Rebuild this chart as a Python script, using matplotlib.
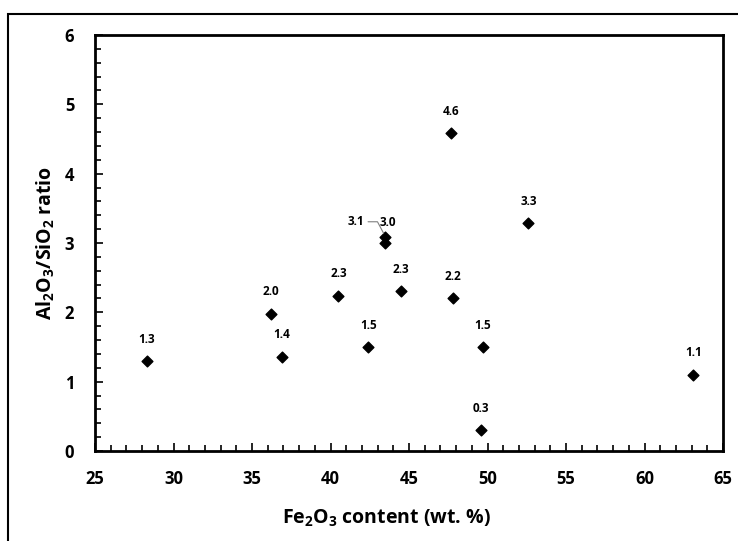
import matplotlib.pyplot as plt
from matplotlib.patches import Rectangle
from matplotlib.ticker import MultipleLocator

# Fe2O3 content vs Al2O3/SiO2 ratio
fe2o3 = [28.3, 36.2, 36.9, 40.5, 42.4, 43.5, 43.5, 44.5, 47.7, 47.8, 49.7, 49.6, 52.6, 63.1]
ratio = [1.30, 1.98, 1.36, 2.24, 1.50, 3.09, 3.00, 2.31, 4.58, 2.20, 1.50, 0.30, 3.29, 1.10]
labels = ['1.3', '2.0', '1.4', '2.3', '1.5', '3.1', '3.0', '2.3', '4.6', '2.2', '1.5', '0.3', '3.3', '1.1']

plt.rcParams['font.family'] = ['Open Sans', 'DejaVu Sans']
plt.rcParams['mathtext.default'] = 'regular'

fig = plt.figure(figsize=(7.38, 5.41), dpi=100)
ax = fig.add_axes([95 / 738, 1 - 451 / 541, 628 / 738, 416 / 541])

# outer frame of the chart area (runs off the right and bottom edges)
fig.patches.append(Rectangle((8 / 738, -0.1), 1.2, 1.1 - 14 / 541,
                             transform=fig.transFigure, fill=False,
                             edgecolor='black', linewidth=1.5))

ax.scatter(fe2o3, ratio, marker='D', s=30, color='black', zorder=3)

for x, y, lab in zip(fe2o3, ratio, labels):
    if lab == '3.1':
        # the two overlapping points near 43.5: 3.1 label pulled left with a leader
        ax.annotate(lab, (x, y), xytext=(-21.5, 10.8), textcoords='offset points',
                    ha='center', va='center', fontsize=8.5, fontweight='bold',
                    arrowprops=dict(arrowstyle='-', color='gray', lw=0.8,
                                    shrinkA=1, shrinkB=3, relpos=(1, 0.5),
                                    connectionstyle='angle,angleA=0,angleB=118,rad=0'))
    elif lab == '3.0':
        ax.annotate(lab, (x, y), xytext=(2, 15), textcoords='offset points',
                    ha='center', va='center', fontsize=8.5, fontweight='bold')
    else:
        ax.annotate(lab, (x, y), xytext=(0, 11), textcoords='offset points',
                    ha='center', va='bottom', fontsize=8.5, fontweight='bold')

ax.set_xlim(25, 65)
ax.set_ylim(0, 6)
ax.xaxis.set_major_locator(MultipleLocator(5))
ax.xaxis.set_minor_locator(MultipleLocator(1))
ax.yaxis.set_major_locator(MultipleLocator(1))
ax.yaxis.set_minor_locator(MultipleLocator(0.2))
ax.tick_params(which='both', direction='in', width=1.2, top=False, right=False)
ax.tick_params(which='major', length=6)
ax.tick_params(which='minor', length=4)
ax.tick_params(axis='x', which='major', pad=14, labelsize=12)
ax.tick_params(axis='y', which='major', pad=15, labelsize=12)
for t in ax.get_xticklabels() + ax.get_yticklabels():
    t.set_fontweight('bold')
for s in ax.spines.values():
    s.set_linewidth(2)

ax.set_xlabel('Fe$_2$O$_3$ content (wt. %)', fontsize=14, fontweight='bold')
ax.set_ylabel('Al$_2$O$_3$/SiO$_2$ ratio', fontsize=14, fontweight='bold')
ax.xaxis.label.set_verticalalignment('center')
ax.yaxis.label.set_verticalalignment('center')
ax.xaxis.set_label_coords((386 - 95) / 628, (451 - 518) / 416)
ax.yaxis.set_label_coords((46 - 95) / 628, 0.5)

fig.savefig('out.png', dpi=100)
